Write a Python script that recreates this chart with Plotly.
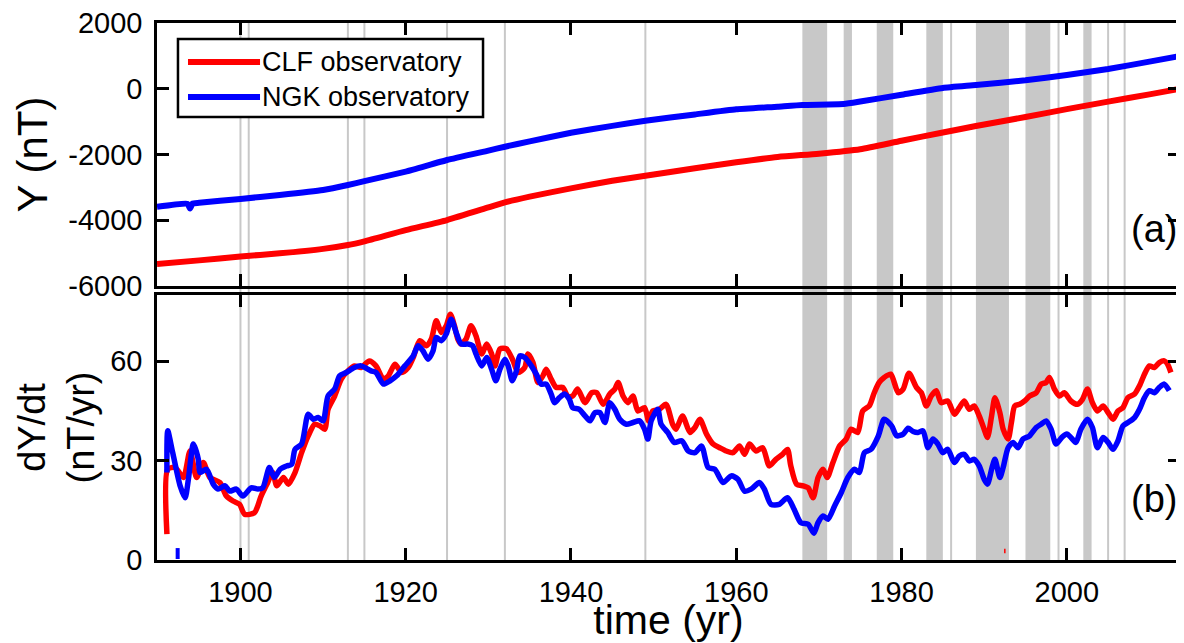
import plotly.graph_objects as go

# ---------------- data ----------------
# Panel (a): Y component (nT)
yr_top_clf = [1889.9, 1895, 1900, 1904.75, 1910, 1913, 1915, 1920, 1925, 1930, 1932, 1935,
              1940, 1945, 1949, 1955, 1960, 1965, 1970, 1975, 1980, 1985, 1989, 1995,
              2000, 2005, 2010, 2013.7]
y_top_clf = [-5330, -5220, -5100, -5006, -4870, -4753, -4640, -4300, -3993, -3610, -3455, -3280,
             -3029, -2800, -2645, -2420, -2238, -2075, -1975, -1840, -1580, -1330, -1133, -860,
             -620, -390, -170, 0]

yr_top_ngk = [1889.9, 1893.6, 1893.9, 1894.2, 1895, 1900, 1904.75, 1910, 1913, 1915, 1920, 1925,
              1930, 1932, 1935, 1940, 1945, 1949, 1955, 1960, 1965, 1968, 1973, 1975, 1980,
              1985, 1989, 1995, 2000, 2005, 2010, 2013.7]
y_top_ngk = [-3590, -3500, -3640, -3490, -3470, -3350, -3232, -3080, -2928, -2810, -2520, -2168,
             -1880, -1763, -1600, -1337, -1130, -972, -780, -625, -546, -494, -464, -390, -180,
             25, 114, 260, 418, 600, 825, 996]

# Panel (b): dY/dt (nT/yr)
yr_clf = [1891.1, 1891.2, 1892.1, 1893.1, 1893.9, 1894.7, 1895.5, 1896.3, 1897.5, 1898.3, 1899.1,
          1899.9, 1900.5, 1901.7, 1902.5, 1903.3, 1903.9, 1904.4, 1905.2, 1905.8, 1906.6, 1907.4,
          1908.2, 1909.0, 1909.6, 1910.2, 1910.6, 1911.4, 1912.2, 1913.0, 1913.8, 1914.6, 1915.6,
          1916.4, 1917.3, 1917.9, 1918.7, 1919.5, 1920.3, 1920.9, 1921.7, 1922.5, 1923.1, 1923.7,
          1924.3, 1924.9, 1925.4, 1925.9, 1926.3, 1926.7, 1927.3, 1927.9, 1928.5, 1929.2, 1929.8,
          1930.4, 1930.8, 1931.4, 1932.2, 1933.0, 1933.6, 1934.4, 1934.8, 1935.4, 1936.0, 1936.6,
          1937.0, 1937.6, 1938.2, 1939.0, 1939.6, 1940.2, 1940.8, 1941.7, 1942.5, 1943.1, 1943.9,
          1944.7, 1945.3, 1945.7, 1946.3, 1946.9, 1947.5, 1948.1, 1948.9, 1949.4, 1949.9, 1950.7,
          1951.5, 1952.3, 1952.7, 1953.5, 1954.4, 1955.0, 1955.6, 1956.4, 1957.2, 1958.0, 1958.8,
          1959.6, 1960.4, 1961.0, 1961.6, 1962.4, 1963.2, 1964.0, 1964.8, 1965.6, 1966.2, 1966.6,
          1967.3, 1968.1, 1968.7, 1969.3, 1969.9, 1970.5, 1971.0, 1971.7, 1972.5, 1973.3, 1973.9,
          1974.7, 1975.3, 1976.1, 1976.7, 1977.3, 1977.9, 1978.7, 1979.6, 1980.2, 1980.9, 1981.8,
          1982.4, 1983.0, 1983.6, 1984.2, 1984.8, 1985.6, 1986.4, 1987.0, 1987.6, 1988.2, 1988.8,
          1989.4, 1990.0, 1990.4, 1990.9, 1991.3, 1991.9, 1992.3, 1992.9, 1993.3, 1993.7, 1994.3,
          1994.9, 1995.5, 1996.3, 1996.9, 1997.5, 1997.9, 1998.5, 1999.1, 1999.7, 2000.5, 2001.3,
          2001.9, 2002.5, 2003.1, 2003.7, 2004.4, 2005.0, 2005.6, 2006.2, 2006.8, 2007.4, 2008.2,
          2008.8, 2009.4, 2010.0, 2010.6, 2011.2, 2011.8, 2012.2, 2012.6]
dy_clf = [7.8, 27.4, 27.9, 24.9, 32.9, 24.9, 29.4, 24.9, 23.4, 19.3, 17.8,
          16.8, 13.8, 14.3, 19.3, 23.4, 26.4, 22.4, 24.9, 22.9, 26.4, 32.4,
          37.5, 41.0, 40.5, 39.5, 45.5, 49.5, 54.6, 57.1, 58.6, 58.1, 60.1,
          58.6, 54.6, 55.6, 59.1, 56.6, 58.1, 61.1, 66.2, 64.7, 66.7, 72.2,
          68.7, 70.7, 74.2, 70.7, 66.7, 65.2, 66.7, 70.7, 67.7, 62.2, 65.2,
          62.2, 58.6, 63.7, 63.7, 60.1, 56.6, 58.1, 62.2, 59.6, 53.6, 55.6,
          57.6, 54.6, 52.1, 52.1, 49.5, 49.5, 51.6, 47.5, 50.5, 50.5, 47.0,
          50.1, 51.6, 53.6, 49.5, 47.5, 49.5, 45.0, 46.0, 42.0, 45.0, 45.5,
          47.0, 41.0, 39.5, 43.5, 38.5, 40.0, 42.5, 38.0, 35.0, 33.9, 32.9,
          32.4, 34.4, 31.9, 35.0, 32.9, 33.9, 28.4, 30.4, 31.9, 33.4, 28.4,
          22.9, 22.4, 21.8, 18.8, 24.9, 27.4, 24.9, 29.4, 34.4, 36.5, 39.5,
          38.5, 45.0, 46.5, 50.5, 53.6, 55.1, 56.1, 50.5, 51.6, 56.4, 52.1,
          50.5, 46.5, 49.5, 51.1, 47.5, 48.0, 44.0, 46.0, 48.0, 45.5, 46.5,
          43.5, 39.5, 37.0, 43.5, 49.0, 44.5, 39.5, 36.5, 41.5, 46.5, 47.0,
          48.0, 49.5, 50.5, 53.1, 53.6, 55.1, 51.6, 49.5, 50.5, 48.0, 47.0,
          48.5, 51.6, 47.5, 45.0, 46.5, 44.5, 42.5, 45.0, 46.0, 49.0, 50.1,
          52.6, 56.1, 58.6, 58.1, 59.6, 60.1, 59.1, 56.6]

yr_ngk = [1891.1, 1891.2, 1891.8, 1892.7, 1893.3, 1893.7, 1894.3, 1894.9, 1895.1, 1895.9, 1896.7,
          1897.3, 1898.1, 1898.7, 1899.5, 1900.3, 1901.3, 1902.1, 1902.7, 1903.5, 1904.1, 1904.8,
          1905.6, 1906.2, 1906.6, 1907.4, 1908.2, 1908.8, 1909.4, 1910.0, 1910.6, 1911.4, 1912.0,
          1912.8, 1913.8, 1914.6, 1915.8, 1916.4, 1917.3, 1918.1, 1918.9, 1919.9, 1920.9, 1921.5,
          1922.1, 1922.7, 1923.3, 1923.7, 1924.3, 1924.9, 1925.5, 1926.1, 1926.7, 1927.5, 1928.1,
          1928.5, 1929.2, 1929.8, 1930.4, 1930.9, 1931.4, 1932.0, 1932.4, 1932.9, 1933.4, 1933.8,
          1934.4, 1935.2, 1935.8, 1936.4, 1937.0, 1937.6, 1938.0, 1938.6, 1939.2, 1939.8, 1940.2,
          1941.0, 1941.7, 1942.3, 1942.9, 1943.5, 1944.1, 1944.7, 1945.3, 1945.9, 1946.7, 1947.5,
          1948.3, 1948.9, 1949.3, 1949.7, 1950.5, 1950.9, 1951.7, 1952.5, 1953.4, 1954.2, 1955.0,
          1955.8, 1956.6, 1957.4, 1958.4, 1959.4, 1960.2, 1961.0, 1961.8, 1962.8, 1963.4, 1964.2,
          1965.2, 1966.2, 1967.0, 1967.8, 1968.7, 1969.4, 1969.9, 1970.5, 1971.1, 1971.9, 1972.7,
          1973.5, 1974.3, 1974.9, 1975.5, 1976.3, 1977.2, 1977.9, 1978.8, 1979.4, 1980.2, 1980.8,
          1981.4, 1982.0, 1982.6, 1983.2, 1983.8, 1984.4, 1985.0, 1985.6, 1986.4, 1987.0, 1987.6,
          1988.2, 1988.8, 1989.4, 1990.0, 1990.4, 1990.9, 1991.3, 1991.9, 1992.3, 1992.9, 1993.5,
          1994.1, 1994.7, 1995.5, 1996.3, 1996.9, 1997.5, 1998.1, 1998.7, 1999.4, 2000.0, 2000.5,
          2001.1, 2001.7, 2002.5, 2003.1, 2003.7, 2004.4, 2005.0, 2005.6, 2006.2, 2006.8, 2007.4,
          2008.2, 2008.8, 2009.4, 2010.0, 2010.6, 2011.2, 2011.8, 2012.4]
dy_ngk = [26.4, 39.0, 32.4, 22.4, 18.8, 24.4, 35.0, 30.4, 26.4, 27.4, 22.9,
          21.4, 22.4, 20.8, 21.4, 19.3, 21.8, 21.4, 21.8, 27.9, 24.9, 27.4,
          28.4, 28.9, 33.4, 35.0, 44.0, 42.5, 43.0, 42.0, 49.5, 51.6, 55.6,
          56.6, 58.1, 58.6, 57.1, 56.6, 53.1, 54.1, 55.6, 58.6, 61.6, 64.7,
          63.1, 60.6, 63.1, 67.2, 66.2, 68.2, 72.7, 68.7, 65.2, 65.2, 64.7,
          62.2, 58.6, 61.1, 57.6, 54.1, 57.6, 60.6, 58.6, 54.1, 57.1, 61.6,
          61.1, 58.6, 56.1, 53.1, 53.1, 50.1, 47.5, 49.0, 50.1, 48.5, 46.0,
          45.5, 43.5, 42.0, 44.5, 44.5, 41.5, 47.5, 45.5, 42.5, 41.0, 41.5,
          42.0, 39.5, 36.5, 42.0, 45.5, 41.0, 38.5, 35.5, 36.0, 32.9, 32.4,
          34.4, 27.9, 27.4, 23.4, 25.4, 24.4, 20.8, 21.4, 23.4, 21.4, 16.8,
          16.8, 18.8, 15.3, 11.3, 10.8, 8.1, 11.3, 13.3, 12.3, 16.3, 20.3,
          24.9, 27.4, 26.4, 32.4, 33.4, 37.5, 42.5, 40.5, 37.5, 38.0, 39.8,
          38.8, 38.5, 39.0, 33.9, 36.5, 35.0, 32.4, 33.4, 29.4, 31.4, 31.9,
          29.9, 30.4, 28.4, 24.4, 22.9, 27.4, 30.4, 24.9, 27.9, 33.9, 35.5,
          33.9, 36.5, 37.5, 40.0, 41.0, 42.0, 39.5, 35.0, 37.0, 38.0, 37.0,
          35.5, 39.5, 42.5, 40.0, 33.9, 37.0, 35.5, 33.4, 36.0, 40.5, 41.5,
          43.0, 45.5, 49.0, 51.1, 50.5, 52.1, 53.1, 51.1]

# isolated short fragments near zero
yr_ngk_frag = [1892.4, 1892.4]
dy_ngk_frag = [0.3, 3.6]
yr_clf_frag = [1992.5, 1992.5]
dy_clf_frag = [2.0, 3.4]

# geomagnetic jerk epochs: thin lines and shaded intervals
jerk_lines = [1900, 1901, 1913, 1915, 1925, 1932, 1949, 1986, 1999, 2005, 2007]
jerk_bands = [(1968, 1971), (1973, 1974), (1977, 1979), (1983, 1985),
              (1989, 1993), (1995, 1998), (2002, 2003)]

x_ticks = [1900, 1920, 1940, 1960, 1980, 2000]
y_ticks_top = [-6000, -4000, -2000, 0, 2000]
y_ticklabels_top = ["-6000", "-4000", "-2000", "0", "2000"]
y_ticks_bot = [0, 30, 60]

series_names = ["CLF observatory", "NGK observatory"]
RED = "#ff0000"
BLUE = "#0000ff"
GRAY = "#c8c8c8"
FONT = "Liberation Sans, Arial, Helvetica, sans-serif"

# ---------------- figure ----------------
fig = go.Figure()
fig.add_trace(go.Scatter(x=yr_top_clf, y=y_top_clf, mode="lines", name=series_names[0],
                         line=dict(color=RED, width=6, shape="spline", smoothing=0.6),
                         xaxis="x", yaxis="y", showlegend=False))
fig.add_trace(go.Scatter(x=yr_top_ngk, y=y_top_ngk, mode="lines", name=series_names[1],
                         line=dict(color=BLUE, width=6, shape="spline", smoothing=0.4),
                         xaxis="x", yaxis="y", showlegend=False))
fig.add_trace(go.Scatter(x=yr_clf, y=dy_clf, mode="lines", name=series_names[0],
                         line=dict(color=RED, width=5.5, shape="spline", smoothing=0.7),
                         xaxis="x2", yaxis="y2", showlegend=False))
fig.add_trace(go.Scatter(x=yr_clf_frag, y=dy_clf_frag, mode="lines", name=series_names[0],
                         line=dict(color=RED, width=1.5), xaxis="x2", yaxis="y2", showlegend=False))
fig.add_trace(go.Scatter(x=yr_ngk, y=dy_ngk, mode="lines", name=series_names[1],
                         line=dict(color=BLUE, width=5.5, shape="spline", smoothing=0.7),
                         xaxis="x2", yaxis="y2", showlegend=False))
fig.add_trace(go.Scatter(x=yr_ngk_frag, y=dy_ngk_frag, mode="lines", name=series_names[1],
                         line=dict(color=BLUE, width=4), xaxis="x2", yaxis="y2", showlegend=False))

shapes = []
for a, b in jerk_bands:
    shapes.append(dict(type="rect", xref="x", yref="paper", x0=a, x1=b, y0=0, y1=1,
                       fillcolor=GRAY, line=dict(width=0), layer="below"))
for v in jerk_lines:
    shapes.append(dict(type="line", xref="x", yref="paper", x0=v, x1=v, y0=0, y1=1,
                       line=dict(color=GRAY, width=2), layer="below"))

# legend box (drawn manually to match the long line samples)
shapes.append(dict(type="rect", xref="x domain", yref="y domain", x0=0.0205, x1=0.3187,
                   y0=0.6426, y1=0.939, fillcolor="white", line=dict(color="black", width=2.5),
                   layer="above"))
shapes.append(dict(type="line", xref="x domain", yref="y domain", x0=0.0303, x1=0.1007,
                   y0=0.8517, y1=0.8517, line=dict(color=RED, width=6), layer="above"))
shapes.append(dict(type="line", xref="x domain", yref="y domain", x0=0.0303, x1=0.1007,
                   y0=0.7186, y1=0.7186, line=dict(color=BLUE, width=6), layer="above"))

annotations = [
    dict(text=series_names[0], xref="x domain", yref="y domain", x=0.1010, y=0.8517,
         xanchor="left", yanchor="middle", showarrow=False, font=dict(size=27, color="black")),
    dict(text=series_names[1], xref="x domain", yref="y domain", x=0.1010, y=0.7186,
         xanchor="left", yanchor="middle", showarrow=False, font=dict(size=27, color="black")),
    dict(text="(a)", xref="x domain", yref="y domain", x=0.999, y=0.215,
         xanchor="right", yanchor="middle", showarrow=False, font=dict(size=38, color="black")),
    dict(text="(b)", xref="x2 domain", yref="y2 domain", x=0.999, y=0.23,
         xanchor="right", yanchor="middle", showarrow=False, font=dict(size=38, color="black")),
]

axis_common = dict(showline=True, linecolor="black", linewidth=2.5, mirror="ticks",
                   ticks="inside", ticklen=12, tickwidth=2.5, tickcolor="black",
                   showgrid=False, zeroline=False, automargin=False,
                   ticklabeloverflow="allow",
                   tickfont=dict(size=29, color="black"))

# the page body adds an 8px offset, so the figure is 8px smaller with margins shifted
fig.update_layout(
    width=1176, height=635,
    margin=dict(l=149, r=4, t=15, b=83, autoexpand=False),
    paper_bgcolor="white", plot_bgcolor="white",
    font=dict(family=FONT, color="black"),
    shapes=shapes, annotations=annotations,
    xaxis=dict(domain=[0, 1], anchor="y", range=[1889.9, 2013.7], tickvals=x_ticks,
               showticklabels=False, **axis_common),
    yaxis=dict(domain=[0.5102, 1], anchor="x", range=[-6000, 2000], tickvals=y_ticks_top,
               ticktext=y_ticklabels_top, ticklabelstandoff=6,
               title=dict(text="Y (nT)", font=dict(size=42), standoff=8), **axis_common),
    xaxis2=dict(domain=[0, 1], anchor="y2", matches="x", range=[1889.9, 2013.7],
                tickvals=x_ticks, ticklabelstandoff=4,
                title=dict(text="time (yr)", font=dict(size=41), standoff=0), **axis_common),
    yaxis2=dict(domain=[0, 0.4935], anchor="x2", range=[0, 80], tickvals=y_ticks_bot,
                ticklabelstandoff=6,
                title=dict(text="dY/dt<br>(nT/yr)", font=dict(size=38), standoff=4),
                **axis_common),
    showlegend=False,
)

fig.write_html("out.html")
